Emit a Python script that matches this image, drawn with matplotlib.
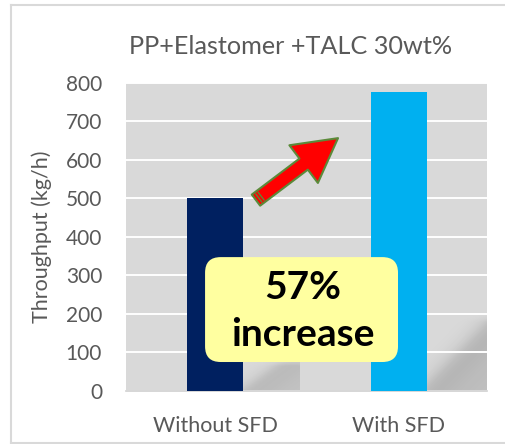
import numpy as np
import matplotlib
matplotlib.use('Agg')
import matplotlib.pyplot as plt
from matplotlib.patches import FancyBboxPatch
from matplotlib.lines import Line2D

# ---- data ----
categories = ['Without SFD', 'With SFD']
throughput = [500, 775]
bar_colors = ['#002060', '#00b0f0']
y_ticks = [0, 100, 200, 300, 400, 500, 600, 700, 800]
title = 'PP+Elastomer +TALC 30wt%'
ylabel = 'Throughput (kg/h)'
callout_pct = '57%'
callout_word = 'increase'

FONT = ['Lato', 'DejaVu Sans']
plt.rcParams['font.family'] = FONT

W, H = 506, 444
fig = plt.figure(figsize=(W / 100, H / 100), dpi=100)
ax = fig.add_axes([125.7 / W, 1 - 390.7 / H, 361.3 / W, 308.0 / H])
ax.set_facecolor('#d9d9d9')

x = np.arange(len(categories))
ax.bar(x, throughput, width=0.305, color=bar_colors, zorder=3)
ax.set_xlim(-0.487, 1.482)
ax.set_ylim(0, 800)
ax.set_yticks(y_ticks)
ax.set_xticks(x)
ax.set_xticklabels(categories)
ax.set_axisbelow(True)
ax.grid(axis='y', color='white', lw=1.4)
for s in ['top', 'right', 'left']:
    ax.spines[s].set_visible(False)
ax.spines['bottom'].set_color('#d0d0d0')
ax.spines['bottom'].set_linewidth(1.2)
ax.tick_params(axis='y', length=0, labelsize=15, colors='#595959', pad=17)
ax.tick_params(axis='x', length=0, labelsize=15.5, colors='#595959', pad=18)

fig.text(0.575, 1 - 47 / H, title, ha='center', va='center', fontsize=18.2, color='#595959')
fig.text(42 / W, 1 - 237 / H, ylabel, ha='center', va='center', rotation=90,
         fontsize=15.5, color='#595959')

fig.canvas.draw()


def px2data(px, py):
    return ax.transData.inverted().transform((px, H - py))


def shadow(box, p0, p1, depth, amax, soft):
    x0, x1, y0, y1 = box
    xs = np.arange(x0, x1) + 0.5
    ys = np.arange(y0, y1) + 0.5
    XX, YY = np.meshgrid(xs, ys)
    dx, dy = p1[0] - p0[0], p1[1] - p0[1]
    L = np.hypot(dx, dy)
    nx, ny = dy / L, -dx / L  # normal pointing lower-right
    if nx < 0:
        nx, ny = -nx, -ny
    d = (XX - p0[0]) * nx + (YY - p0[1]) * ny
    edge = 1 / (1 + np.exp(-d / soft))
    a = amax * edge * (0.45 + 0.55 * np.exp(-np.clip(d, 0, None) / depth))
    top = np.clip((YY - y0) / 8.0, 0, 1)
    rgba = np.zeros(a.shape + (4,))
    rgba[..., 3] = a * top
    (dx0, dy0) = px2data(x0, y1)
    (dx1, dy1) = px2data(x1, y0)
    ax.imshow(rgba, extent=(dx0, dx1, dy0, dy1), origin='upper', aspect='auto',
              zorder=0.3, interpolation='bilinear')


shadow((243, 300, 358, 391), (240, 394), (292, 356), 12, 0.22, 4.5)
shadow((426, 488, 314, 391), (422, 392), (494, 318), 18, 0.24, 5.5)
ax.set_xlim(-0.487, 1.482)
ax.set_ylim(0, 800)

# callout box
bx0, bx1 = -0.0545, 0.997
by0, by1 = 74.5, 347
aspect = (800 / 308.0) / (1.969 / 361.3)
box = FancyBboxPatch((bx0, by0), bx1 - bx0, by1 - by0,
                     boxstyle='round,pad=0,rounding_size=0.085',
                     mutation_aspect=aspect, fc='#ffffa0', ec='none', zorder=4)
ax.add_patch(box)
ax.text(0.48, 269, callout_pct, ha='center', va='center', fontsize=28,
        fontweight='bold', color='black', zorder=5)
ax.text(0.48, 147, callout_word, ha='center', va='center', fontsize=28,
        fontweight='bold', color='black', zorder=5)

# arrow
tail = (0.223, 495)
tip = (0.670, 656)
ax.annotate('', xy=tip, xytext=tail,
            arrowprops=dict(arrowstyle='simple,head_width=3.4,head_length=3.1,tail_width=1.0',
                            fc='#ff0000', ec='#5b8a3a', lw=1.5, shrinkA=0, shrinkB=0,
                            mutation_scale=10),
            zorder=5)
# stripes near the arrow tail
t_px = ax.transData.transform(tail)
h_px = ax.transData.transform(tip)
u = (h_px - t_px) / np.hypot(*(h_px - t_px))
n = np.array([-u[1], u[0]])
for off in (3.5, 6.5):
    c = t_px + u * off
    seg = np.array([c - n * 5.5, c + n * 5.5])
    seg_d = ax.transData.inverted().transform(seg)
    ax.plot(seg_d[:, 0], seg_d[:, 1], color='#5b8a3a', lw=1.0, zorder=6,
            solid_capstyle='butt')

# outer frame
for (xa, ya) in [((11 / W, 11 / W), (1 - 5 / H, 1 - 442.7 / H)),
                 ((11 / W, 1.0), (1 - 5 / H, 1 - 5 / H)),
                 ((11 / W, 1.0), (1 - 442.7 / H, 1 - 442.7 / H))]:
    fig.add_artist(Line2D(xa, ya, color='#d9d9d9', lw=1.5))

fig.savefig('out.png', dpi=100)
